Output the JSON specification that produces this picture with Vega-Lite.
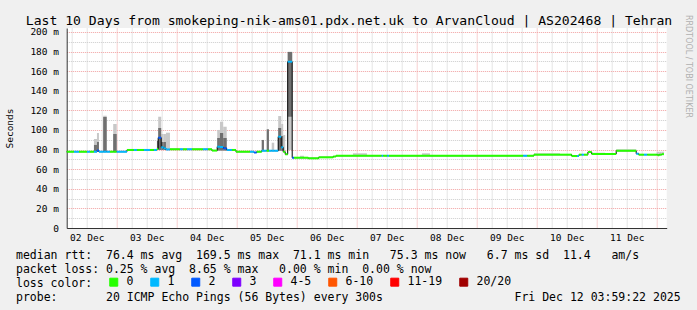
{
  "$schema": "https://vega.github.io/schema/vega-lite/v6.json",
  "width": 600,
  "height": 200,
  "autosize": {"type": "none"},
  "padding": {"left": 66.7, "top": 28, "right": 30.3, "bottom": 82},
  "background": "#f0f0f0",
  "config": {"view": {"fill": "white", "stroke": null}, "font": "DejaVu Sans Mono"},
  "data": {"values": [
    {"t": 0, "t2": 2.9, "m": 77.8, "c": "0"},
    {"t": 2.9, "t2": 4.9, "m": 77.8, "c": "1"},
    {"t": 4.9, "t2": 8.1, "m": 77.8, "c": "0"},
    {"t": 8.1, "t2": 9.3, "m": 77.8, "c": "1"},
    {"t": 9.3, "t2": 10.9, "m": 77.8, "c": "0"},
    {"t": 10.9, "t2": 12.1, "m": 77.8, "c": "1", "lo": 77.8, "hi": 90.8, "dlo": 77.8, "dhi": 84.7},
    {"t": 12.1, "t2": 12.9, "m": 79.0, "c": "2", "lo": 77.8, "hi": 96.9, "dlo": 77.8, "dhi": 87.7},
    {"t": 12.9, "t2": 14.6, "m": 77.8, "c": "1"},
    {"t": 14.6, "t2": 16.0, "m": 77.8, "c": "1", "lo": 77.8, "hi": 114.5, "dlo": 77.8, "dhi": 113.2},
    {"t": 16.0, "t2": 17.3, "m": 77.8, "c": "1"},
    {"t": 17.3, "t2": 18.6, "m": 77.8, "c": "0"},
    {"t": 18.6, "t2": 20.0, "m": 77.8, "c": "0", "lo": 77.8, "hi": 106.1, "dlo": 77.8, "dhi": 95.9},
    {"t": 20.0, "t2": 24.1, "m": 77.8, "c": "1"},
    {"t": 24.1, "t2": 26.9, "m": 79.6, "c": "0"},
    {"t": 26.9, "t2": 28.1, "m": 79.6, "c": "1"},
    {"t": 28.1, "t2": 30.9, "m": 79.6, "c": "0"},
    {"t": 30.9, "t2": 33.3, "m": 79.6, "c": "1"},
    {"t": 33.3, "t2": 34.9, "m": 79.6, "c": "0"},
    {"t": 34.9, "t2": 36.1, "m": 79.6, "c": "1"},
    {"t": 36.1, "t2": 36.6, "m": 80.6, "c": "0", "dlo": 79.6, "dhi": 88.7},
    {"t": 36.6, "t2": 37.8, "m": 92.1, "c": "2", "lo": 79.6, "hi": 113.5, "dlo": 79.6, "dhi": 102},
    {"t": 37.8, "t2": 38.8, "m": 82.3, "c": "1", "lo": 79.6, "hi": 95.9, "dlo": 79.6, "dhi": 87.7},
    {"t": 38.8, "t2": 39.7, "m": 81.3, "c": "1", "lo": 79.6, "hi": 95.9, "dlo": 79.6, "dhi": 87.7},
    {"t": 39.7, "t2": 41.3, "m": 80.1, "c": "1", "lo": 79.6, "hi": 97.2},
    {"t": 41.3, "t2": 45.3, "m": 80.3, "c": "0"},
    {"t": 45.3, "t2": 46.5, "m": 80.3, "c": "1"},
    {"t": 46.5, "t2": 48.1, "m": 80.3, "c": "0"},
    {"t": 48.1, "t2": 50.1, "m": 80.3, "c": "1"},
    {"t": 50.1, "t2": 54.5, "m": 80.3, "c": "0"},
    {"t": 54.5, "t2": 56.5, "m": 80.3, "c": "1"},
    {"t": 56.5, "t2": 58.1, "m": 80.3, "c": "0"},
    {"t": 58.1, "t2": 60.2, "m": 79.0, "c": "0"},
    {"t": 60.2, "t2": 61.3, "m": 82.9, "c": "1", "lo": 79.0, "hi": 100, "dlo": 79.0, "dhi": 91.8},
    {"t": 61.3, "t2": 62.6, "m": 82.6, "c": "1", "lo": 79.0, "hi": 108.4, "dlo": 79.0, "dhi": 96.9},
    {"t": 62.6, "t2": 64.0, "m": 81.3, "c": "2", "lo": 79.0, "hi": 103.3, "dlo": 79.0, "dhi": 91.8},
    {"t": 64.0, "t2": 66.1, "m": 79.6, "c": "1"},
    {"t": 66.1, "t2": 67.7, "m": 79.6, "c": "0"},
    {"t": 67.7, "t2": 73.3, "m": 77.8, "c": "0"},
    {"t": 73.3, "t2": 74.9, "m": 77.8, "c": "1"},
    {"t": 74.9, "t2": 76.0, "m": 77.0, "c": "2"},
    {"t": 76.0, "t2": 78.0, "m": 77.8, "c": "0"},
    {"t": 78.0, "t2": 78.9, "m": 78.8, "c": "1", "dlo": 78.8, "dhi": 89.8},
    {"t": 78.9, "t2": 80.0, "m": 78.8, "c": "1"},
    {"t": 80.0, "t2": 80.9, "m": 78.8, "c": "0", "dlo": 78.8, "dhi": 100.7},
    {"t": 80.9, "t2": 82.0, "m": 78.8, "c": "1"},
    {"t": 82.0, "t2": 83.0, "m": 78.8, "c": "1", "lo": 78.8, "hi": 87},
    {"t": 83.0, "t2": 84.6, "m": 78.8, "c": "1"},
    {"t": 84.6, "t2": 85.8, "m": 93.1, "c": "1", "lo": 78.8, "hi": 114.2, "dlo": 78.8, "dhi": 102},
    {"t": 85.8, "t2": 86.6, "m": 82.3, "c": "1", "lo": 78.8, "hi": 106.1, "dlo": 78.8, "dhi": 93.8},
    {"t": 86.6, "t2": 87.4, "m": 77.8, "c": "0", "lo": 77.8, "hi": 94.9},
    {"t": 87.4, "t2": 88.4, "m": 75.2, "c": "0"},
    {"t": 88.4, "t2": 90.2, "m": 169.6, "c": "1", "lo": 79.6, "hi": 179.8, "dlo": 113.5, "dhi": 179.5},
    {"t": 90.2, "t2": 90.9, "m": 71.7, "c": "2"},
    {"t": 90.9, "t2": 93.3, "m": 71.7, "c": "0"},
    {"t": 93.3, "t2": 94.9, "m": 71.7, "c": "0", "lo": 71.7, "hi": 73.7},
    {"t": 94.9, "t2": 96.6, "m": 71.7, "c": "0"},
    {"t": 96.6, "t2": 100.8, "m": 71.1, "c": "0"},
    {"t": 100.8, "t2": 106.6, "m": 72.1, "c": "0"},
    {"t": 106.6, "t2": 107.7, "m": 72.9, "c": "0"},
    {"t": 107.7, "t2": 114.5, "m": 73.7, "c": "0"},
    {"t": 114.5, "t2": 120.1, "m": 73.7, "c": "0", "lo": 73.7, "hi": 76.2},
    {"t": 120.1, "t2": 126.0, "m": 73.7, "c": "0"},
    {"t": 126.0, "t2": 126.6, "m": 73.7, "c": "1"},
    {"t": 126.6, "t2": 128.2, "m": 73.7, "c": "0"},
    {"t": 128.2, "t2": 128.9, "m": 73.7, "c": "1"},
    {"t": 128.9, "t2": 142.1, "m": 73.7, "c": "0"},
    {"t": 142.1, "t2": 145.3, "m": 73.7, "c": "0", "lo": 73.7, "hi": 76.2},
    {"t": 145.3, "t2": 182.6, "m": 73.7, "c": "0"},
    {"t": 182.6, "t2": 184.2, "m": 73.7, "c": "1"},
    {"t": 184.2, "t2": 186.9, "m": 73.7, "c": "0"},
    {"t": 186.9, "t2": 197.3, "m": 74.8, "c": "0", "lo": 74.8, "hi": 76.2},
    {"t": 197.3, "t2": 202.0, "m": 74.8, "c": "0"},
    {"t": 202.0, "t2": 204.2, "m": 73.4, "c": "0"},
    {"t": 204.2, "t2": 204.9, "m": 73.4, "c": "1"},
    {"t": 204.9, "t2": 206.0, "m": 74.8, "c": "0"},
    {"t": 206.0, "t2": 206.9, "m": 74.8, "c": "1"},
    {"t": 206.9, "t2": 208.5, "m": 74.8, "c": "0"},
    {"t": 208.5, "t2": 210.0, "m": 77.5, "c": "0"},
    {"t": 210.0, "t2": 215.3, "m": 75.5, "c": "0", "lo": 75.5, "hi": 76.8},
    {"t": 215.3, "t2": 219.8, "m": 75.5, "c": "0"},
    {"t": 219.8, "t2": 227.8, "m": 78.8, "c": "0", "lo": 78.8, "hi": 80.3},
    {"t": 227.8, "t2": 228.8, "m": 75.8, "c": "1"},
    {"t": 228.8, "t2": 230.9, "m": 74.8, "c": "0"},
    {"t": 230.9, "t2": 232.2, "m": 74.8, "c": "1"},
    {"t": 232.2, "t2": 236.0, "m": 74.8, "c": "0"},
    {"t": 236.0, "t2": 236.5, "m": 74.8, "c": "0", "lo": 74.8, "hi": 77.8},
    {"t": 236.5, "t2": 237.0, "m": 74.2, "c": "0", "lo": 74.2, "hi": 77.8},
    {"t": 237.0, "t2": 238.0, "m": 74.8, "c": "0", "lo": 74.8, "hi": 77.8},
    {"t": 238.0, "t2": 238.9, "m": 75.3, "c": "0", "lo": 75.3, "hi": 77.8}
  ]},
  "layer": [
    {
      "mark": {"type": "rect", "color": "#c8c8c8"},
      "encoding": {
        "x": {"field": "t", "type": "quantitative", "scale": {"domain": [0, 240], "nice": false, "zero": false},
          "axis": {
            "orient": "bottom",
            "values": [2,8,14,20,26,32,38,44,50,56,62,68,74,80,86,92,98,104,110,116,122,128,134,140,146,152,158,164,170,176,182,188,194,200,206,212,218,224,230,236],
            "labelExpr": "(datum.value+4)%24==12 ? (((2+floor((datum.value+4)/24))<10 ? '0' : '') + (2+floor((datum.value+4)/24)) + ' Dec') : ''",
            "grid": true,
            "gridDash": [1, 1],
            "gridColor": {"condition": {"test": "(datum.value+4)%24==0", "value": "#f0a0a0"}, "value": "#cccccc"},
            "ticks": false,
            "tickSize": 0,
            "labelPadding": 9.7,
            "labelBaseline": "middle",
            "labelFont": "DejaVu Sans Mono",
            "labelFontSize": 9.5,
            "labelColor": "#000000",
            "labelOverlap": false,
            "labelFlush": false,
            "domainColor": "#333333",
            "title": [
              "median rtt:\u00a0\u00a076.4 ms avg\u00a0\u00a0169.5 ms max\u00a0\u00a071.1 ms min\u00a0\u00a0\u00a075.3 ms now\u00a0\u00a0\u00a06.7 ms sd\u00a0\u00a011.4\u00a0\u00a0\u00a0am/s",
              "packet loss: 0.25 % avg\u00a0\u00a08.65 % max\u00a0\u00a0\u00a00.00 % min\u00a0\u00a00.00 % now",
              "loss color:",
              "probe:\u00a0\u00a0\u00a0\u00a0\u00a0\u00a0\u00a020 ICMP Echo Pings (56 Bytes) every 300s\u00a0\u00a0\u00a0\u00a0\u00a0\u00a0\u00a0\u00a0\u00a0\u00a0\u00a0\u00a0\u00a0\u00a0\u00a0\u00a0\u00a0\u00a0\u00a0Fri Dec 12 03:59:22 2025"
            ],
            "titleX": -51.2,
            "titleY": 30,
            "titleAlign": "left",
            "titleBaseline": "alphabetic",
            "titleFont": "DejaVu Sans Mono",
            "titleFontSize": 11.5,
            "titleFontWeight": "normal",
            "titleLineHeight": 14,
            "titleColor": "#000000"
          }},
        "x2": {"field": "t2"},
        "y": {"field": "lo", "type": "quantitative", "scale": {"domain": [0, 204], "nice": false, "zero": true},
          "axis": {
            "orient": "left",
            "values": [0,10,20,30,40,50,60,70,80,90,100,110,120,130,140,150,160,170,180,190,200],
            "labelExpr": "datum.value % 20 == 0 ? (datum.value == 0 ? '0' : datum.value + ' m') : ''",
            "grid": true,
            "gridDash": [1, 1],
            "gridColor": {"condition": {"test": "datum.value % 20 == 0", "value": "#f0a0a0"}, "value": "#cccccc"},
            "ticks": false,
            "tickSize": 0,
            "labelPadding": 8.2,
            "labelFont": "DejaVu Sans Mono",
            "labelFontSize": 9.5,
            "labelColor": "#000000",
            "labelOverlap": false,
            "labelFlush": false,
            "domainColor": "#333333",
            "title": "Seconds",
            "titleX": -56.7,
            "titleY": 100,
            "titleAngle": 270,
            "titleAlign": "center",
            "titleBaseline": "middle",
            "titleFont": "DejaVu Sans Mono",
            "titleFontSize": 9.5,
            "titleFontWeight": "normal",
            "titleColor": "#000000"
          }},
        "y2": {"field": "hi"}
      }
    },
    {
      "mark": {"type": "rect", "color": "#707070"},
      "encoding": {
        "x": {"field": "t", "type": "quantitative", "scale": {"domain": [0, 240], "nice": false, "zero": false},
          "axis": {
            "orient": "top", "labels": false, "ticks": false, "domain": false, "grid": false,
            "title": "Last 10 Days from smokeping-nik-ams01.pdx.net.uk to ArvanCloud | AS202468 | Tehran",
            "titleX": 281.8, "titleY": -8, "titleAlign": "center", "titleBaseline": "middle",
            "titleFont": "DejaVu Sans Mono", "titleFontSize": 13.1, "titleFontWeight": "normal", "titleColor": "#000000"
          }},
        "x2": {"field": "t2"},
        "y": {"field": "dlo", "type": "quantitative", "scale": {"domain": [0, 204], "nice": false, "zero": true},
          "axis": {
            "orient": "right", "labels": false, "ticks": false, "domain": false, "grid": false,
            "title": "RRDTOOL / TOBI OETIKER",
            "titleX": 20.3, "titleY": 38, "titleAngle": 90, "titleAlign": "center", "titleBaseline": "middle",
            "titleFont": "DejaVu Sans", "titleFontSize": 8, "titleFontWeight": "normal", "titleColor": "#b0b0b0"
          }},
        "y2": {"field": "dhi"}
      }
    },
    {
      "mark": {"type": "line", "interpolate": "step-after", "color": "#000000", "strokeWidth": 1},
      "encoding": {
        "x": {"field": "t", "type": "quantitative", "scale": {"domain": [0, 240], "nice": false, "zero": false}, "axis": null},
        "y": {"field": "m", "type": "quantitative", "scale": {"domain": [0, 204], "nice": false, "zero": true}, "axis": null}
      }
    },
    {
      "mark": {"type": "rule", "strokeWidth": 2, "strokeCap": "butt"},
      "encoding": {
        "x": {"field": "t", "type": "quantitative", "scale": {"domain": [0, 240], "nice": false, "zero": false}, "axis": null},
        "x2": {"field": "t2"},
        "y": {"field": "m", "type": "quantitative", "scale": {"domain": [0, 204], "nice": false, "zero": true}, "axis": null},
        "color": {
          "field": "c", "type": "nominal",
          "scale": {"domain": ["0", "1", "2", "3", "4-5", "6-10", "11-19", "20/20"],
                    "range": ["#26ff00", "#00b8ff", "#0059ff", "#7e00ff", "#ff00ff", "#ff5500", "#ff0000", "#a10000"]},
          "legend": {
            "orient": "none", "legendX": 41.3, "legendY": 248.3, "direction": "horizontal", "title": null,
            "symbolType": "square", "symbolSize": 64, "symbolStrokeWidth": 1, "symbolStrokeColor": "#000000", "symbolOpacity": 1,
            "labelFont": "DejaVu Sans Mono", "labelFontSize": 11.5, "labelColor": "#000000", "labelOffset": 7,
            "columnPadding": 14, "padding": 0,
            "encode": {"symbols": {"update": {"fill": {"scale": "color", "field": "value"}, "stroke": {"value": "#000000"}, "fillOpacity": {"value": 1}}}}
          }
        }
      }
    }
  ],
  "resolve": {"axis": {"x": "independent", "y": "independent"}}
}
